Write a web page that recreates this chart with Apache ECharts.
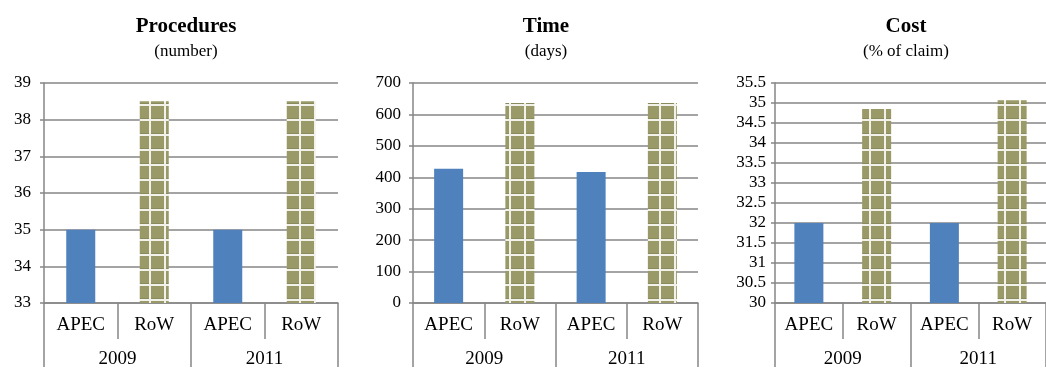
<!DOCTYPE html>
<html>
<head>
<meta charset="utf-8">
<script src="https://cdn.jsdelivr.net/npm/echarts@6/dist/echarts.min.js"></script>
<style>
  html, body { margin: 0; padding: 0; background: #fff; }
  #chart { width: 1046px; height: 369px; }
</style>
</head>
<body>
<div id="chart"></div>
<script>
// Panel categories
const groups = ['APEC', 'RoW', 'APEC', 'RoW'];
const years = ['2009', '2011'];

// Panel titles
const titles = ['Procedures', 'Time', 'Cost'];
const subtitles = ['(number)', '(days)', '(% of claim)'];

// Values per year (2009, 2011)
const procApec = [35, 35];
const procRow = [38.5, 38.5];
const timeApec = [427, 417];
const timeRow = [636, 636];
const costApec = [32, 32];
const costRow = [34.85, 35.07];

// Value-axis ranges: [min, max, interval]
const procAxis = [33, 39, 1];
const timeAxis = [0, 700, 100];
const costAxis = [30, 35.5, 0.5];

const FONT = '"Liberation Serif", "Times New Roman", serif';
const AXIS = '#868686';
const BLUE = '#4f81bd';

// Grid-patterned fill for the RoW bars
function gridPattern() {
  const c = document.createElement('canvas');
  c.width = 15; c.height = 15;
  const g = c.getContext('2d');
  g.fillStyle = '#f2f2ea';
  g.fillRect(0, 0, 15, 15);
  g.fillStyle = '#999a68';
  g.fillRect(1, 1, 13, 13);
  g.fillStyle = '#8a8b5c';
  g.fillRect(1, 13, 13, 1);
  return c;
}
const rowFill = { image: gridPattern(), repeat: 'repeat' };

const panels = [
  { apec: procApec, row: procRow, axis: procAxis, left: 44, right: 708, title: 181, margin: 13 },
  { apec: timeApec, row: timeRow, axis: timeAxis, left: 413, right: 348, title: 541, margin: 12 },
  { apec: costApec, row: costRow, axis: costAxis, left: 775, right: -17, title: 901, margin: 9 }
];

const option = {
  animation: false,
  backgroundColor: '#fff',
  title: [], grid: [], xAxis: [], yAxis: [], series: []
};

panels.forEach((p, i) => {
  option.title.push({
    text: titles[i], subtext: subtitles[i],
    left: p.title, top: 11, textAlign: 'center', itemGap: 6,
    textStyle: { fontFamily: FONT, fontSize: 21, fontWeight: 'bold', color: '#000' },
    subtextStyle: { fontFamily: FONT, fontSize: 17, color: '#000' }
  });
  option.grid.push({ left: p.left, right: p.right, top: 83, bottom: 63 });

  // Inner category row (APEC / RoW)
  option.xAxis.push({
    type: 'category', gridIndex: i, data: groups, position: 'bottom',
    axisLine: { lineStyle: { color: AXIS, width: 1.5 } },
    axisTick: { show: true, alignWithLabel: false, length: 36, lineStyle: { color: AXIS, width: 1.5 } },
    axisLabel: { fontFamily: FONT, fontSize: 19, color: '#000', margin: 13 }
  });
  // Outer category row (years)
  option.xAxis.push({
    type: 'category', gridIndex: i, data: years, position: 'bottom',
    axisLine: { show: false },
    axisTick: { show: true, alignWithLabel: false, length: 64, lineStyle: { color: AXIS, width: 1.5 } },
    axisLabel: { fontFamily: FONT, fontSize: 19, color: '#000', margin: 47 }
  });

  option.yAxis.push({
    type: 'value', gridIndex: i, min: p.axis[0], max: p.axis[1], interval: p.axis[2],
    axisLine: { show: true, lineStyle: { color: AXIS, width: 1.5 } },
    axisTick: { show: true, length: 4, lineStyle: { color: AXIS, width: 1.5 } },
    splitLine: { lineStyle: { color: AXIS, width: 1.5 } },
    axisLabel: { fontFamily: FONT, fontSize: 17, color: '#000', margin: p.margin }
  });

  const apecData = [], rowData = [];
  years.forEach((y, k) => {
    apecData.push(p.apec[k], '-');
    rowData.push('-', p.row[k]);
  });
  option.series.push({
    type: 'bar', xAxisIndex: i * 2, yAxisIndex: i, stack: 's' + i,
    barWidth: 29, data: apecData, itemStyle: { color: BLUE }
  });
  option.series.push({
    type: 'bar', xAxisIndex: i * 2, yAxisIndex: i, stack: 's' + i,
    barWidth: 29, data: rowData, itemStyle: { color: rowFill }
  });
});

const chart = echarts.init(document.getElementById('chart'), null, { renderer: 'canvas' });
chart.setOption(option);
</script>
</body>
</html>
